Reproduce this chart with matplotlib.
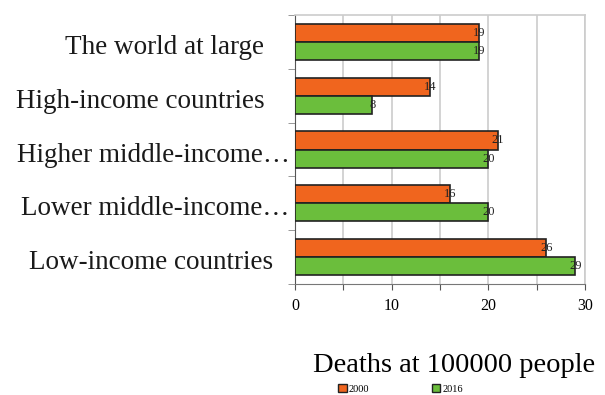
import matplotlib.pyplot as plt
import numpy as np
from matplotlib.patches import Patch
from matplotlib.transforms import blended_transform_factory, offset_copy

categories = ['The world at large', 'High-income countries',
              'Higher middle-income\u2026', 'Lower middle-income\u2026',
              'Low-income countries']
deaths_2000 = [19, 14, 21, 16, 26]
deaths_2016 = [19, 8, 20, 20, 29]
years = ['2000', '2016']
colors = ['#F0651E', '#6BBE3C']

plt.rcParams['font.family'] = ['Liberation Serif', 'DejaVu Serif']

fig = plt.figure(figsize=(6.05, 3.95), dpi=100)
ax = fig.add_axes([0.4876, 0.281, 0.4794, 0.681])

y = np.arange(len(categories))
h = 0.335
bars_a = ax.barh(y - h / 2, deaths_2000, height=h, color=colors[0],
                 edgecolor='#222222', linewidth=1.2, zorder=3)
bars_b = ax.barh(y + h / 2, deaths_2016, height=h, color=colors[1],
                 edgecolor='#222222', linewidth=1.2, zorder=3)

for bars, vals in [(bars_a, deaths_2000), (bars_b, deaths_2016)]:
    for b, v in zip(bars, vals):
        ax.text(v, b.get_y() + b.get_height() / 2, str(v), ha='center',
                va='center', fontsize=9, color='#222222', zorder=4)

ax.set_xlim(0, 30)
ax.set_ylim(len(categories) - 0.5, -0.5)
ax.set_xticks(np.arange(0, 31, 5))
ax.set_xticklabels(['0', '', '10', '', '20', '', '30'], fontsize=11.5)
ax.grid(axis='x', color='#cccccc', linewidth=1.2, zorder=0)

# category names, drawn by hand so the shortened ones can sit closer
ax.set_yticks([])
ax.set_yticks(np.arange(-0.5, len(categories) + 0.5, 1), minor=True)
ax.tick_params(axis='y', which='minor', length=5, color='#888888')
label_gap = [22, 22, 4, 4, 16]
base = blended_transform_factory(ax.transAxes, ax.transData)
for yi, name, gap in zip(y, categories, label_gap):
    tr = offset_copy(base, fig=fig, x=-gap, y=-4, units='points')
    ax.text(0, yi, name, transform=tr, ha='right', va='center',
            fontsize=19.5, color='#1a1a1a')

ax.tick_params(axis='x', length=4, color='#555555', pad=6)

for side in ['top', 'right']:
    ax.spines[side].set_color('#cccccc')
    ax.spines[side].set_linewidth(1.2)
ax.spines['left'].set_color('#555555')
ax.spines['bottom'].set_color('#777777')

ax.set_xlabel('Deaths at 100000 people', fontsize=20.5, labelpad=28, x=0.55)

handles = [Patch(facecolor=c, edgecolor='#222222') for c in colors]
fig.legend(handles, years, loc='center', bbox_to_anchor=(0.662, 0.015),
           ncol=2, frameon=False, fontsize=7.5, handlelength=0.8,
           handleheight=0.8, handletextpad=0.2, columnspacing=6)

fig.savefig('out.png', dpi=100)
